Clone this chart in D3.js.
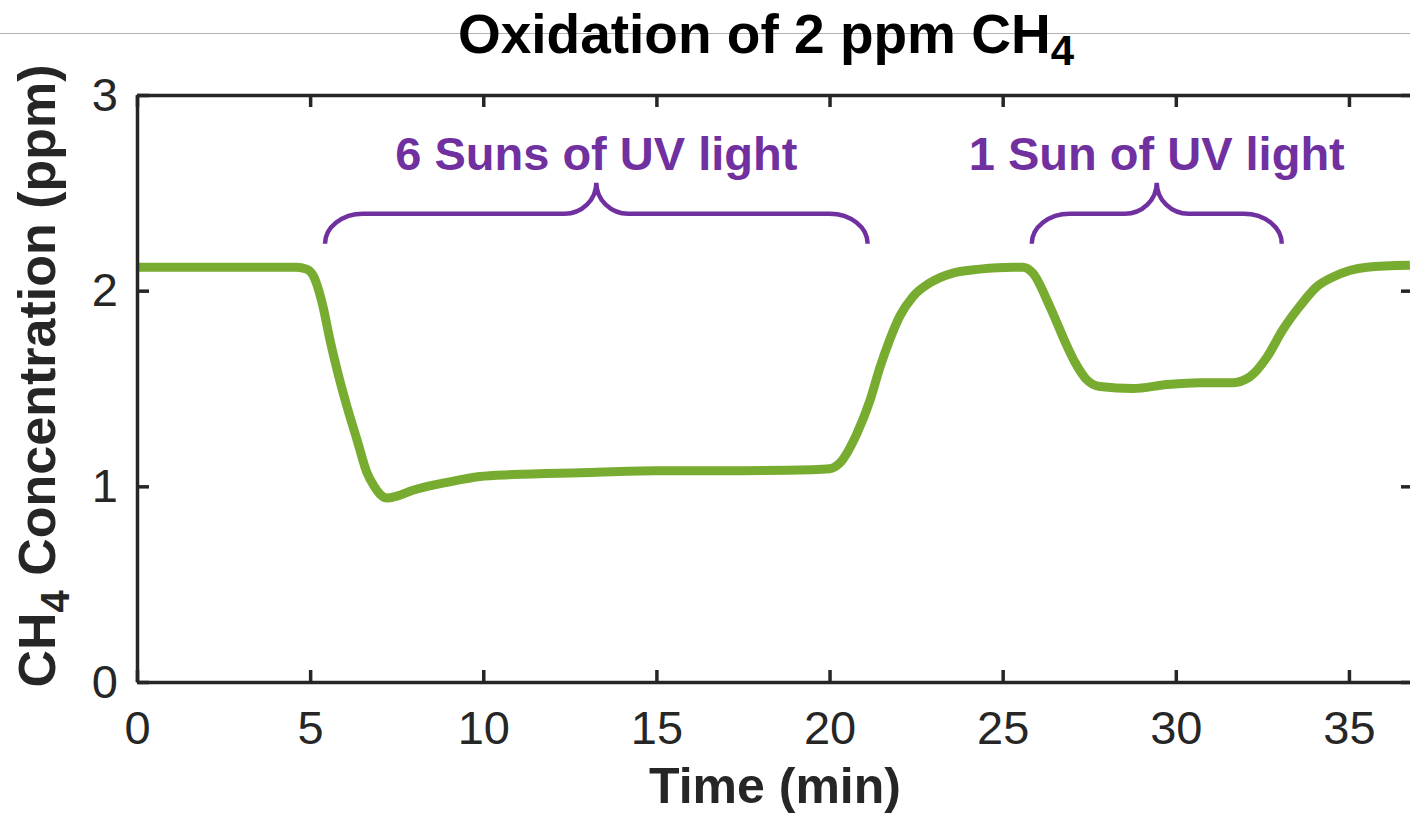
<!DOCTYPE html>
<html>
<head>
<meta charset="utf-8">
<script src="https://cdn.jsdelivr.net/npm/d3@7"></script>
<style>
  body { margin: 0; background: #fff; }
  text { font-family: "Liberation Sans", Arial, Helvetica, sans-serif; }
</style>
</head>
<body>
<svg width="1410" height="813"></svg>
<script>
// time in minutes, CH4 concentration in ppm
const timeMin = [0, 1, 2, 3, 4, 4.6, 4.9, 5.08, 5.37, 5.57, 5.8, 6.06, 6.35, 6.64, 6.85, 7.02, 7.22,
  7.5, 7.97, 8.95, 9.9, 10.86, 12.8, 15, 17.5, 19.5, 20.0, 20.3, 20.79, 21.17, 21.46, 21.74, 22.03,
  22.41, 22.9, 23.56, 24.34, 25.3, 25.58, 25.87, 26.36, 26.85, 27.1, 27.4, 27.81, 28.76, 29.74,
  30.7, 31.65, 32.14, 32.63, 33.09, 33.58, 34.07, 34.54, 35.52, 36.76];
const ch4Ppm = [2.12, 2.12, 2.12, 2.12, 2.12, 2.12, 2.11, 2.08, 1.92, 1.75, 1.58, 1.41, 1.24, 1.07, 1.0, 0.96, 0.94,
  0.95, 0.98, 1.02, 1.05, 1.06, 1.07, 1.08, 1.08, 1.085, 1.09, 1.12, 1.27, 1.44, 1.61, 1.75, 1.87,
  1.97, 2.04, 2.09, 2.11, 2.12, 2.12, 2.09, 1.92, 1.72, 1.63, 1.55, 1.51, 1.50, 1.52,
  1.53, 1.53, 1.56, 1.66, 1.80, 1.92, 2.02, 2.07, 2.12, 2.13];

const xTicks = [0, 5, 10, 15, 20, 25, 30, 35];
const yTicks = [0, 1, 2, 3];

// UV exposure periods marked with braces
const uvLabels = ['6 Suns of UV light', '1 Sun of UV light'];
const uvStart = [5.43, 25.84];
const uvEnd = [21.1, 33.06];

const svg = d3.select('svg');
const axisColor = '#262626';
const lineColor = '#77ac30';
const purple = '#7030a0';

// thin rule across the top of the image
svg.append('line')
  .attr('x1', 0).attr('x2', 1410)
  .attr('y1', 33.5).attr('y2', 33.5)
  .attr('stroke', '#b0b0b0').attr('stroke-width', 1);

const xMax = 36.85;
const x = d3.scaleLinear().domain([0, xMax]).range([137, 1413]);
const y = d3.scaleLinear().domain([0, 3]).range([682, 95]);

const data = timeMin.map((t, i) => ({ t, v: ch4Ppm[i] }));

const line = d3.line()
  .x(d => x(d.t))
  .y(d => y(d.v))
  .curve(d3.curveMonotoneX);

svg.append('path')
  .datum(data)
  .attr('d', line)
  .attr('fill', 'none')
  .attr('stroke', lineColor)
  .attr('stroke-width', 9)
  .attr('stroke-linejoin', 'round');

// axes: box with inward ticks on all sides
const styleAxis = g => {
  g.selectAll('path.domain').attr('stroke', axisColor).attr('stroke-width', 3.5);
  g.selectAll('.tick line').attr('stroke', axisColor).attr('stroke-width', 3.5);
  g.selectAll('.tick text')
    .attr('font-family', null)
    .attr('fill', axisColor)
    .style('font-size', '47px');
};

svg.append('g')
  .attr('transform', `translate(0,${y(0)})`)
  .call(d3.axisBottom(x).tickValues(xTicks).tickFormat(d3.format('d'))
    .tickSizeInner(-12).tickSizeOuter(0).tickPadding(29))
  .call(styleAxis);

svg.append('g')
  .attr('transform', `translate(0,${y(3)})`)
  .call(d3.axisTop(x).tickValues(xTicks).tickFormat('').tickSizeInner(-12).tickSizeOuter(0))
  .call(styleAxis);

svg.append('g')
  .attr('transform', `translate(${x(0)},0)`)
  .call(d3.axisLeft(y).tickValues(yTicks).tickFormat(d3.format('d'))
    .tickSizeInner(-12).tickSizeOuter(0).tickPadding(19))
  .call(styleAxis);

svg.append('g')
  .attr('transform', `translate(${x(xMax)},0)`)
  .call(d3.axisRight(y).tickValues(yTicks).tickFormat('').tickSizeInner(-12).tickSizeOuter(0))
  .call(styleAxis);

// title
const title = svg.append('text')
  .attr('x', 766).attr('y', 53)
  .attr('text-anchor', 'middle')
  .attr('font-weight', 'bold')
  .attr('font-size', 55)
  .attr('fill', '#000');
title.append('tspan').text('Oxidation of 2 ppm CH');
title.append('tspan').attr('dy', 12).attr('font-size', 42).text('4');

// x label
svg.append('text')
  .attr('x', 775).attr('y', 803)
  .attr('text-anchor', 'middle')
  .attr('font-weight', 'bold')
  .attr('font-size', 50)
  .attr('fill', axisColor)
  .text('Time (min)');

// y label
const yLabel = svg.append('text')
  .attr('transform', 'translate(55,376) rotate(-90)')
  .attr('text-anchor', 'middle')
  .attr('font-weight', 'bold')
  .attr('font-size', 52)
  .attr('fill', axisColor);
yLabel.append('tspan').text('CH');
yLabel.append('tspan').attr('dy', 14).attr('font-size', 40).text('4');
yLabel.append('tspan').attr('dy', -14).text(' Concentration (ppm)');

// braces + labels
const braceBase = 2.24;
const bracePath = (x0, x1) => {
  const xa = x(x0), xb = x(x1), xm = (xa + xb) / 2;
  const ym = y(braceBase), yb = ym - 30, yt = ym - 61;
  const r = 38, rm = 32, k = 0.55;
  return `M${xa},${ym} C${xa},${ym - 30 * k} ${xa + r * (1 - k)},${yb} ${xa + r},${yb}`
    + ` L${xm - rm},${yb} C${xm - rm * (1 - k)},${yb} ${xm},${yb - 31 * (1 - k)} ${xm},${yt}`
    + ` C${xm},${yb - 31 * (1 - k)} ${xm + rm * (1 - k)},${yb} ${xm + rm},${yb}`
    + ` L${xb - r},${yb} C${xb - r * (1 - k)},${yb} ${xb},${ym - 30 * k} ${xb},${ym}`;
};

uvLabels.forEach((label, i) => {
  svg.append('path')
    .attr('d', bracePath(uvStart[i], uvEnd[i]))
    .attr('fill', 'none')
    .attr('stroke', purple)
    .attr('stroke-width', 4.5);
  svg.append('text')
    .attr('x', x((uvStart[i] + uvEnd[i]) / 2))
    .attr('y', 170)
    .attr('text-anchor', 'middle')
    .attr('font-weight', 'bold')
    .attr('font-size', 47)
    .attr('fill', purple)
    .text(label);
});
</script>
</body>
</html>
